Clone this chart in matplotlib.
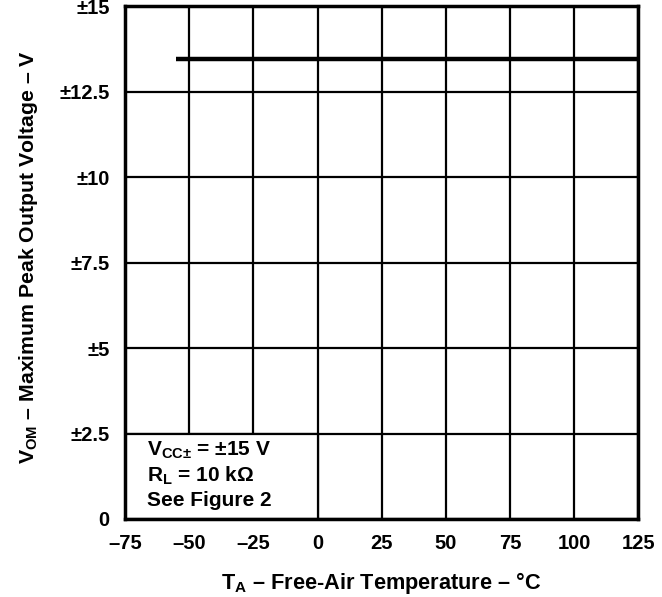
import matplotlib
matplotlib.use("Agg")
import matplotlib.pyplot as plt
from matplotlib.patches import Rectangle

plt.rcParams['font.family'] = ['Liberation Sans', 'DejaVu Sans']
plt.rcParams['font.weight'] = 'bold'
plt.rcParams['axes.labelweight'] = 'bold'
plt.rcParams['mathtext.fontset'] = 'custom'
plt.rcParams['mathtext.rm'] = 'Liberation Sans:bold'
plt.rcParams['mathtext.it'] = 'Liberation Sans:bold'
plt.rcParams['mathtext.bf'] = 'Liberation Sans:bold'

temps = [-55, 125]
vom = [13.45, 13.45]
x_ticks = [-75, -50, -25, 0, 25, 50, 75, 100, 125]
x_labels = ['–75', '–50', '–25', '0', '25', '50', '75', '100', '125']
y_ticks = [0, 2.5, 5, 7.5, 10, 12.5, 15]
y_labels = ['0', '±2.5', '±5', '±7.5', '±10', '±12.5', '±15']

fig = plt.figure(figsize=(6.62, 5.97), dpi=100)
ax = fig.add_axes([0.189, 0.1307, 0.775, 0.859])
ax.set_xlim(-75, 125)
ax.set_ylim(0, 15)
ax.set_xticks(x_ticks)
ax.set_xticklabels(x_labels)
ax.set_yticks(y_ticks)
ax.set_yticklabels(y_labels)
ax.tick_params(length=0, labelsize=14.5)
ax.tick_params(axis='x', pad=11)
ax.tick_params(axis='y', pad=11)
ax.grid(True, color='black', linewidth=1.6, zorder=1)
ax.set_axisbelow(True)
for s in ax.spines.values():
    s.set_linewidth(2.5)
    s.set_zorder(5)

ax.add_patch(Rectangle((-75, 0), 75, 2.5, facecolor='white', edgecolor='black',
                       linewidth=1.6, zorder=2))
ax.text(-66.5, 2.33, 'V$_{CC±}$ = ±15 V\nR$_L$ = 10 kΩ\nSee Figure 2', fontsize=15,
        va='top', ha='left', linespacing=1.25, zorder=3)

ax.plot(temps, vom, color='black', linewidth=3.2, zorder=4, solid_capstyle='butt')

ax.set_xlabel('T$_A$ – Free-Air Temperature – °C', fontsize=15.7, labelpad=12)
ax.set_ylabel('V$_{OM}$ – Maximum Peak Output Voltage – V', fontsize=15.3, labelpad=14)
ax.yaxis.set_label_coords(-0.165, 0.51)

fig.savefig('out.png', dpi=100)
